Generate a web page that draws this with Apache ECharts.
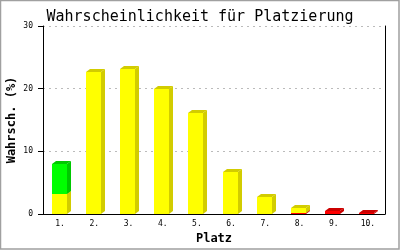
<!DOCTYPE html>
<html>
<head>
<meta charset="utf-8">
<script src="https://cdn.jsdelivr.net/npm/echarts@6/dist/echarts.min.js"></script>
<style>
  html, body { margin: 0; padding: 0; background: #fff; }
  #chart { width: 400px; height: 250px; }
</style>
</head>
<body>
<div id="chart"></div>
<script>
// Placement categories and stacked probability shares (%)
const categories = ['1.', '2.', '3.', '4.', '5.', '6.', '7.', '8.', '9.', '10.'];
const redValues = [0, 0, 0, 0, 0, 0, 0, 0.2, 0.5, 0.2];
const yellowValues = [3.2, 22.6, 23.1, 19.9, 16.1, 6.7, 2.7, 0.8, 0, 0];
const greenValues = [4.8, 0, 0, 0, 0, 0, 0, 0, 0, 0];
const yTicks = [0, 10, 20, 30];

const MONO = '"DejaVu Sans Mono", "Liberation Mono", monospace';

// Stack order bottom → top: red, yellow, green
const layers = [
  { name: 'rot', values: redValues, front: '#ff0000', dark: '#cc0000' },
  { name: 'gelb', values: yellowValues, front: '#ffff00', dark: '#d2cc00' },
  { name: 'grün', values: greenValues, front: '#00ff00', dark: '#00c800' }
];

const running = categories.map(() => 0);
const layerData = layers.map(layer => {
  const rows = [];
  layer.values.forEach((v, i) => {
    if (v > 0) rows.push([i, running[i], running[i] + v]);
    running[i] += v;
  });
  return rows;
});

const DEPTH_X = 4, DEPTH_Y = 3;

function makeRenderer(layer) {
  return function (params, api) {
    const i = api.value(0);
    const lo = api.coord([i, api.value(1)]);
    const hi = api.coord([i, api.value(2)]);
    const band = api.size([1, 0])[0];
    const w = Math.round(band * 0.44);
    const x0 = Math.round(lo[0] - w / 2 - 1);
    const x1 = x0 + w;
    const yb = Math.round(lo[1]);
    const yt = Math.round(hi[1]);
    return {
      type: 'group',
      children: [
        {
          type: 'polygon',
          shape: { points: [[x1, yb], [x1 + DEPTH_X, yb - DEPTH_Y], [x1 + DEPTH_X, yt - DEPTH_Y], [x1, yt]] },
          style: { fill: layer.dark }
        },
        {
          type: 'polygon',
          shape: { points: [[x0, yt], [x0 + DEPTH_X, yt - DEPTH_Y], [x1 + DEPTH_X, yt - DEPTH_Y], [x1, yt]] },
          style: { fill: layer.dark }
        },
        {
          type: 'rect',
          shape: { x: x0, y: yt, width: w, height: Math.max(1, yb - yt) },
          style: { fill: layer.front }
        }
      ]
    };
  };
}

const chart = echarts.init(document.getElementById('chart'), null, { renderer: 'canvas' });

chart.setOption({
  animation: false,
  backgroundColor: '#ffffff',
  title: {
    text: 'Wahrscheinlichkeit für Platzierung',
    left: 'center',
    top: 5,
    textStyle: { fontFamily: MONO, fontSize: 15, fontWeight: 'normal', color: '#000' }
  },
  graphic: [{
    type: 'rect',
    shape: { x: 0.5, y: 0.5, width: 398.5, height: 248.5 },
    style: { fill: 'none', stroke: '#a0a0a0', lineWidth: 1.5 },
    silent: true
  }],
  grid: { left: 43, right: 15, top: 26, bottom: 36, outerBoundsMode: 'none', containLabel: false },
  xAxis: {
    type: 'category',
    data: categories,
    name: 'Platz',
    nameLocation: 'middle',
    nameGap: 19,
    nameMoveOverlap: false,
    nameTextStyle: { fontFamily: MONO, fontSize: 12, fontWeight: 'bold', color: '#000' },
    axisLine: { lineStyle: { color: '#000', width: 1 } },
    axisTick: { show: false },
    axisLabel: { fontFamily: MONO, fontSize: 8, color: '#000', margin: 6 },
    splitLine: { show: false }
  },
  yAxis: [
    {
      type: 'value',
      min: yTicks[0],
      max: yTicks[yTicks.length - 1],
      interval: yTicks[1] - yTicks[0],
      name: 'Wahrsch. (%)',
      nameLocation: 'middle',
      nameGap: 25,
      nameRotate: 90,
      nameMoveOverlap: false,
      nameTextStyle: { fontFamily: MONO, fontSize: 12, fontWeight: 'bold', color: '#000' },
      axisLine: { show: true, lineStyle: { color: '#000', width: 1 } },
      axisTick: { show: true, length: 5, lineStyle: { color: '#000' } },
      axisLabel: { fontFamily: MONO, fontSize: 8, color: '#000', margin: 10 },
      splitLine: { show: true, lineStyle: { color: '#bbbbbb', type: [2, 4], width: 1 } }
    },
    {
      type: 'value',
      position: 'right',
      min: yTicks[0],
      max: yTicks[yTicks.length - 1],
      interval: yTicks[1] - yTicks[0],
      axisLine: { show: true, lineStyle: { color: '#000', width: 1 } },
      axisTick: { show: false },
      axisLabel: { show: false },
      splitLine: { show: false }
    }
  ],
  series: layers.map((layer, k) => ({
    type: 'custom',
    name: layer.name,
    renderItem: makeRenderer(layer),
    encode: { x: 0, y: [1, 2] },
    data: layerData[k],
    z: 2 + k
  }))
});
</script>
</body>
</html>
